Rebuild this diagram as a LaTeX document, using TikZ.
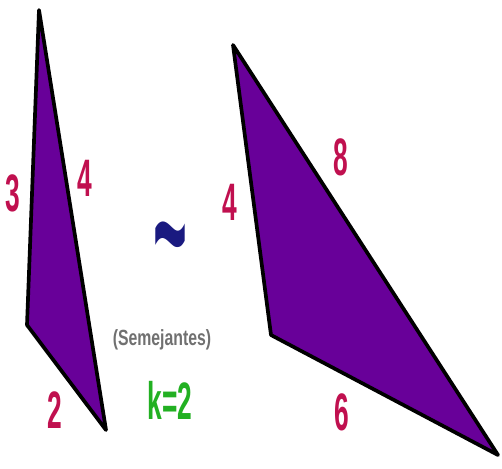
\documentclass[tikz,border=0pt]{standalone}
\usepackage{fontspec}
\setmainfont{Liberation Sans}
\newfontfamily\lblfont{Liberation Sans}[FakeStretch=0.5]
\newfontfamily\semfont{Liberation Sans}[FakeStretch=0.72]
\usepackage{tikz}
\usetikzlibrary{positioning}
\usepackage{xcolor}
\definecolor{trifill}{HTML}{680099}
\definecolor{ladocol}{HTML}{C0104F}
\definecolor{simcol}{HTML}{1A1A80}
\definecolor{kcol}{HTML}{22B022}
\definecolor{grcol}{HTML}{707070}

\tikzset{
    tri/.style={fill=trifill, draw=black, line width=2.1pt, line join=round},
    lado/.style={text=ladocol, font=\lblfont\fontsize{30}{30}\selectfont\bfseries, inner sep=0pt},
}

\begin{document}
\begin{tikzpicture}[x=0.02cm, y=-0.02cm]
    \useasboundingbox (0, 0) rectangle (502, 468);

    % triangulo pequeno
    \begin{scope}
        \coordinate (A1) at (39, 10);
        \coordinate (B1) at (27, 325);
        \coordinate (C1) at (106, 430);
        \draw[tri] (A1) -- (B1) -- (C1) -- cycle;

        \node[lado] (l3) at (13, 193) {3};
        \node[lado] (l4a) at (85, 178) {4};
        \node[lado] (l2) at (55, 410) {2};
    \end{scope}

    % semejanza
    \node[text=simcol, font=\fontsize{33}{33}\selectfont\bfseries, inner sep=0pt, anchor=base] (sim) at (170, 288) {\raisebox{0pt}[37pt][-26pt]{\scalebox{1}[2.8]{\char`\~}}};
    \node[text=grcol, font=\semfont\fontsize{12.5}{12.5}\selectfont\bfseries, inner sep=0pt] (sem) at (162, 340) {(Semejantes)};
    \node[text=kcol, font=\lblfont\fontsize{30}{30}\selectfont\bfseries, inner sep=0pt] (k) at (170, 400) {k=2};

    % triangulo grande
    \begin{scope}
        \coordinate (A2) at (233, 45);
        \coordinate (B2) at (271, 335);
        \coordinate (C2) at (498, 455);
        \draw[tri] (A2) -- (B2) -- (C2) -- cycle;

        \node[lado] (l4b) at (230, 202) {4};
        \node[lado] (l8) at (341, 157) {8};
        \node[lado] (l6) at (342, 412) {6};
    \end{scope}
\end{tikzpicture}
\end{document}
